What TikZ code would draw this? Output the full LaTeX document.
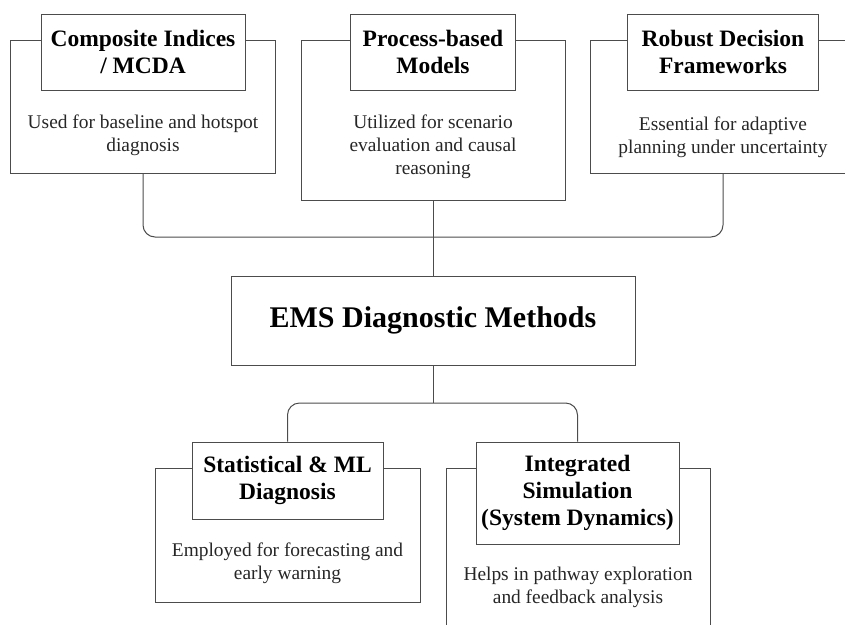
\documentclass[tikz,border=0pt]{standalone}
\usepackage{fontspec}
\setmainfont{Liberation Serif}
\usepackage{tikz}

\newcommand{\boxheadfont}{\fontsize{23.5}{27}\selectfont\bfseries}
\newcommand{\boxnotefont}{\fontsize{19.4}{23}\selectfont}
\newcommand{\hubfont}{\fontsize{30}{36}\selectfont\bfseries}

\begin{document}
\begin{tikzpicture}[x=1pt, y=-1pt]
	\useasboundingbox (0,0) rectangle (845,624);
	\clip (0,0) rectangle (845,624);

	% outer frames
	\begin{scope}[every node/.style={draw=black!70, line width=1pt, inner sep=0pt}]
		\node[minimum width=265, minimum height=133] (ci-frame) at (143,107) {};
		\node[minimum width=264, minimum height=160] (pm-frame) at (433,120) {};
		\node[minimum width=266, minimum height=133] (rd-frame) at (723,107) {};
		\node[minimum width=265, minimum height=134] (sm-frame) at (287.5,535) {};
		\node[minimum width=264, minimum height=168] (is-frame) at (578,552) {};
	\end{scope}

	% titles
	\begin{scope}[every node/.style={draw=black!70, line width=1pt, fill=white,
	              align=center, font=\boxheadfont, inner sep=2pt}]
		\node[minimum width=204, minimum height=76] (ci-title) at (143,52) {Composite Indices\\/ MCDA};
		\node[minimum width=165, minimum height=76] (pm-title) at (433,52) {Process-based\\Models};
		\node[minimum width=191, minimum height=76] (rd-title) at (723,52) {Robust Decision\\Frameworks};
		\node[minimum width=191, minimum height=77] (sm-title) at (287.5,480.5) {Statistical \& ML\\Diagnosis};
		\node[minimum width=203, minimum height=102] (is-title) at (577.5,493) {Integrated\\Simulation\\(System Dynamics)};
	\end{scope}

	% notes
	\begin{scope}[every node/.style={align=center, font=\boxnotefont, text=black!85, inner sep=0pt}]
		\node (ci-note) at (143,135) {Used for baseline and hotspot\\diagnosis};
		\node (pm-note) at (433,147) {Utilized for scenario\\evaluation and causal\\reasoning};
		\node (rd-note) at (723,137) {Essential for adaptive\\planning under uncertainty};
		\node (sm-note) at (287.5,563) {Employed for forecasting and\\early warning};
		\node (is-note) at (578,587) {Helps in pathway exploration\\and feedback analysis};
	\end{scope}

	\node[draw=black!70, line width=1pt, minimum width=404, minimum height=89,
	      font=\hubfont] (ems) at (433,320.5) {EMS Diagnostic Methods};

	\coordinate (hub-top) at (433,237);
	\coordinate (hub-bot) at (433,403);

	\begin{scope}[draw=black!70, line width=1pt, rounded corners=12pt]
		\draw (ci-frame.south) |- (hub-top) -| (rd-frame.south);
		\draw (pm-frame.south) -- (ems.north);
		\draw (ems.south) -- (hub-bot);
		\draw (sm-title.north) |- (hub-bot) -| (is-title.north);
	\end{scope}
\end{tikzpicture}
\end{document}
